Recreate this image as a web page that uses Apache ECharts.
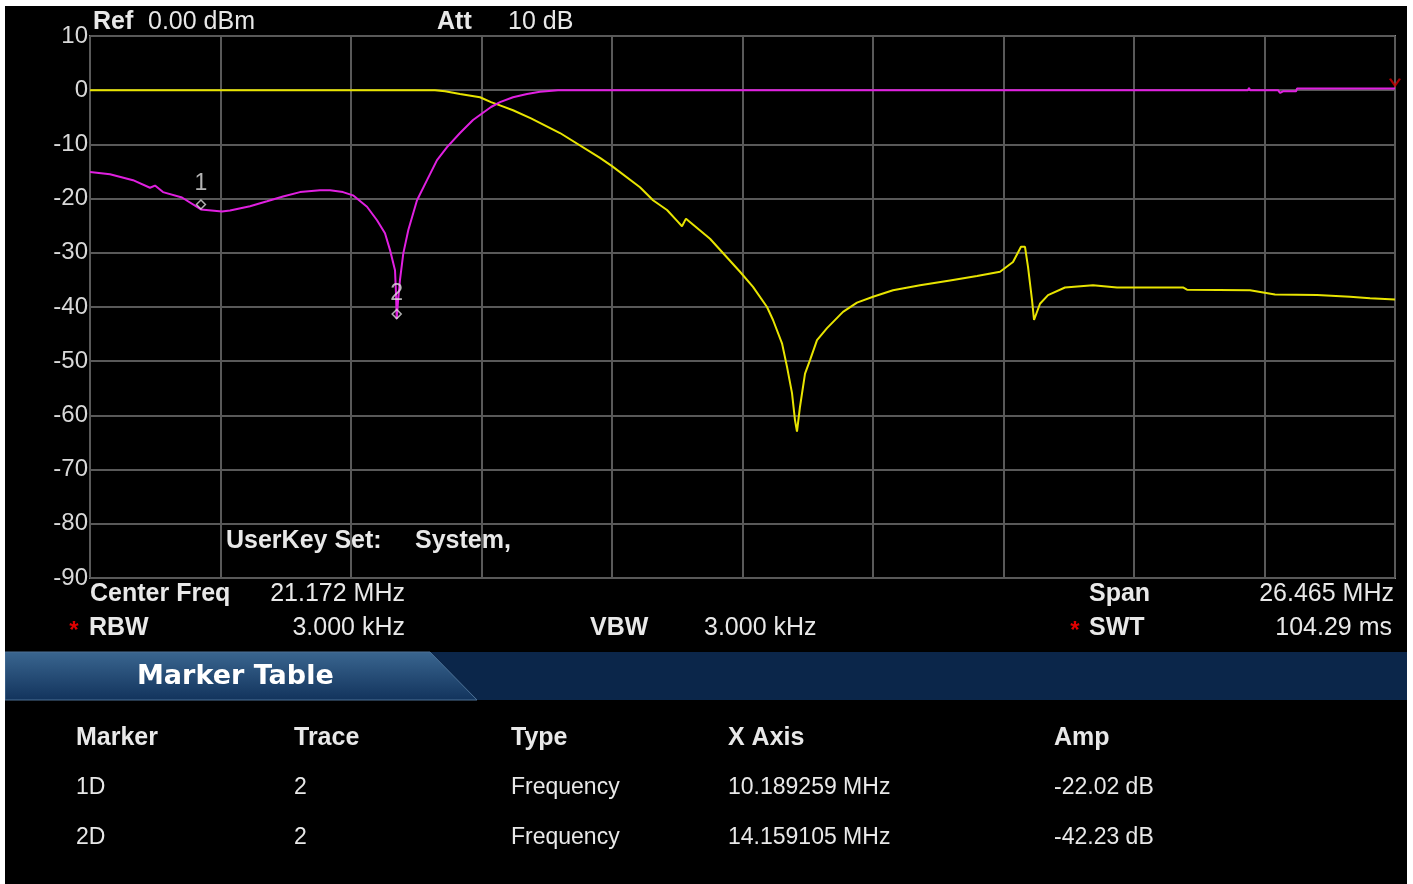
<!DOCTYPE html>
<html>
<head>
<meta charset="utf-8">
<title>Spectrum trace</title>
<script src="https://cdn.jsdelivr.net/npm/echarts@6/dist/echarts.min.js"></script>
<style>
  html, body { margin: 0; padding: 0; background: #fff; }
  #main { position: absolute; left: 5px; top: 6px; width: 1402px; height: 878px; background: #000; }
</style>
</head>
<body>
<div id="main"></div>
<script>
// sweep settings (MHz / dB)
const centerFreq = 21.172;
const span = 26.465;
const startFreq = centerFreq - span / 2;
const stopFreq = centerFreq + span / 2;
const refLevel = 10;
const bottomLevel = -90;

// trace 1 (yellow)
const trace1Freq = [7.940, 14.936, 15.139, 15.443, 15.849, 16.072, 16.254, 16.518, 16.883, 17.471,
  18.282, 18.526, 19.093, 19.357, 19.641, 19.864, 19.945, 20.026, 20.513, 21.121,
  21.385, 21.669, 21.791, 21.973, 22.074, 22.176, 22.237, 22.277, 22.338, 22.440,
  22.541, 22.683, 22.886, 23.210, 23.494, 23.819, 24.224, 24.772, 25.380, 25.928,
  26.394, 26.658, 26.820, 26.901, 26.962, 27.043, 27.084, 27.205, 27.368, 27.712,
  28.280, 28.767, 30.105, 30.186, 31.464, 31.971, 32.823, 33.492, 33.898, 34.404];
const trace1Level = [0, 0, -0.2, -0.7, -1.3, -2.2, -2.8, -3.7, -5.2, -7.9,
  -12.5, -14.0, -17.9, -20.3, -22.1, -24.3, -25.1, -23.7, -27.4, -33.5,
  -36.3, -40.0, -42.4, -46.7, -51.0, -55.9, -60.9, -63.0, -58.4, -52.3,
  -49.8, -46.1, -43.9, -40.9, -39.2, -38.1, -36.9, -36.0, -35.1, -34.3,
  -33.5, -31.7, -28.9, -28.9, -32.6, -38.7, -42.4, -39.4, -37.8, -36.4,
  -36.0, -36.4, -36.4, -36.8, -36.9, -37.7, -37.8, -38.1, -38.4, -38.6];

// trace 2 (magenta)
const trace2Freq = [7.940, 8.345, 8.812, 9.156, 9.258, 9.420, 9.805, 10.189, 10.616, 10.779,
  11.184, 11.529, 11.854, 12.198, 12.604, 12.807, 13.070, 13.273, 13.557, 13.760,
  13.922, 14.024, 14.125, 14.145, 14.159, 14.190, 14.226, 14.293, 14.395, 14.571,
  14.774, 14.977, 15.180, 15.443, 15.707, 16.072, 16.254, 16.518, 16.802, 17.065,
  17.430, 31.424, 31.444, 31.465, 32.032, 32.073, 32.134, 32.397, 32.417, 34.404];
const trace2Level = [-15.1, -15.5, -16.6, -18.0, -17.6, -18.8, -19.8, -22.0, -22.4, -22.2,
  -21.4, -20.5, -19.6, -18.8, -18.45, -18.45, -18.8, -19.4, -21.5, -24.0,
  -26.4, -29.5, -33.2, -37.5, -42.2, -38.5, -35.0, -30.1, -25.8, -20.3,
  -16.6, -12.9, -10.5, -7.9, -5.5, -3.1, -2.2, -1.3, -0.7, -0.3,
  0, 0, 0.4, 0, 0, -0.5, -0.2, -0.2, 0.3, 0.3];

// markers
const markerNames = ['1', '2'];
const markerFreq = [10.189259, 14.159105];
const markerAmp = [-22.02, -42.23];

// marker table
const tableHeaders = ['Marker', 'Trace', 'Type', 'X Axis', 'Amp'];
const tableMarker = ['1D', '2D'];
const tableTrace = ['2', '2'];
const tableType = ['Frequency', 'Frequency'];
const tableXAxis = ['10.189259 MHz', '14.159105 MHz'];
const tableAmp = ['-22.02 dB', '-42.23 dB'];

const FONT = '"Liberation Sans", Arial, sans-serif';
const OX = 5, OY = 6; // page offset of the chart div

function txt(x, y, text, opt) {
  opt = opt || {};
  return {
    type: 'text',
    x: x - OX,
    y: y - OY,
    silent: true,
    style: {
      text: text,
      fill: opt.color || '#e8e8e8',
      font: (opt.bold ? 'bold ' : '') + (opt.size || 25) + 'px ' + (opt.family || FONT),
      textAlign: opt.align || 'left',
      textVerticalAlign: 'middle'
    }
  };
}

const zip = (xs, ys) => xs.map((x, i) => [x, ys[i]]);

const elements = [
  txt(93, 22, 'Ref', { bold: true }),
  txt(148, 22, '0.00 dBm'),
  txt(437, 22, 'Att', { bold: true }),
  txt(508, 22, '10 dB'),
  txt(226, 541, 'UserKey Set:', { bold: true }),
  txt(415, 541, 'System,', { bold: true }),
  txt(90, 594, 'Center Freq', { bold: true }),
  txt(405, 594, centerFreq.toFixed(3) + ' MHz', { align: 'right' }),
  txt(74, 631, '*', { color: '#e00000', bold: true, size: 24, align: 'center' }),
  txt(89, 628, 'RBW', { bold: true }),
  txt(405, 628, '3.000 kHz', { align: 'right' }),
  txt(590, 628, 'VBW', { bold: true }),
  txt(704, 628, '3.000 kHz'),
  txt(1089, 594, 'Span', { bold: true }),
  txt(1394, 594, span.toFixed(3) + ' MHz', { align: 'right' }),
  txt(1075, 631, '*', { color: '#e00000', bold: true, size: 24, align: 'center' }),
  txt(1089, 628, 'SWT', { bold: true }),
  txt(1392, 628, '104.29 ms', { align: 'right' }),
  // marker table bar
  {
    type: 'rect', silent: true,
    shape: { x: 0, y: 652 - OY, width: 1402, height: 48 },
    style: { fill: '#0b264a' }
  },
  {
    type: 'polygon', silent: true,
    shape: { points: [[0, 652 - OY], [430 - OX, 652 - OY], [477 - OX, 700 - OY], [0, 700 - OY]] },
    style: {
      fill: new echarts.graphic.LinearGradient(0, 0, 0, 1, [
        { offset: 0, color: '#3a6690' },
        { offset: 1, color: '#12335c' }
      ]),
      stroke: '#4c7196', lineWidth: 1
    }
  },
  txt(137, 677, 'Marker Table', { bold: true, size: 27, family: '"DejaVu Sans", sans-serif', color: '#ffffff' })
];

const colX = [76, 294, 511, 728, 1054];
tableHeaders.forEach((h, i) => elements.push(txt(colX[i], 738, h, { bold: true, size: 25 })));
tableMarker.forEach((m, r) => {
  const y = 788 + r * 50;
  const row = [m, tableTrace[r], tableType[r], tableXAxis[r], tableAmp[r]];
  row.forEach((v, i) => elements.push(txt(colX[i], y, v, { size: 23 })));
});

const chart = echarts.init(document.getElementById('main'));
chart.setOption({
  animation: false,
  backgroundColor: '#000',
  grid: {
    left: 90 - OX, top: 36 - OY, width: 1305, height: 542,
    show: true, borderColor: '#8c8c8c', borderWidth: 2, backgroundColor: 'transparent'
  },
  xAxis: {
    type: 'value',
    min: startFreq, max: stopFreq, interval: span / 10,
    axisLine: { show: false }, axisTick: { show: false }, axisLabel: { show: false },
    splitLine: { show: true, lineStyle: { color: '#595959', width: 2 } }
  },
  yAxis: {
    type: 'value',
    min: bottomLevel, max: refLevel, interval: 10,
    axisLine: { show: false }, axisTick: { show: false },
    axisLabel: { color: '#d8d8d8', fontSize: 24, fontFamily: FONT, margin: 2 },
    splitLine: { show: true, lineStyle: { color: '#595959', width: 2 } }
  },
  series: [
    {
      name: 'Trace 1', type: 'line', data: zip(trace1Freq, trace1Level),
      showSymbol: false, lineStyle: { color: '#e8e400', width: 2 }, z: 3
    },
    {
      name: 'Trace 2', type: 'line', data: zip(trace2Freq, trace2Level),
      showSymbol: false, lineStyle: { color: '#e020e0', width: 2 }, z: 4
    },
    {
      name: 'Markers', type: 'scatter', z: 5,
      data: markerFreq.map((f, i) => ({ value: [f, markerAmp[i]], name: markerNames[i] })),
      symbol: 'path://M5,0 L10,5 L5,10 L0,5 Z', symbolSize: [9, 9], symbolOffset: [0, -5],
      itemStyle: { color: 'transparent', borderColor: '#dcdcdc', borderWidth: 1.5 },
      label: {
        show: true, position: 'top', distance: 4, formatter: '{b}',
        color: '#e0e0e0', fontSize: 23, fontFamily: FONT
      }
    },
    {
      name: 'Trace end', type: 'scatter', z: 6,
      data: [[stopFreq, 1.5]],
      symbol: 'path://M0,0 L5,6 L10,0', symbolSize: [10, 7],
      itemStyle: { color: 'transparent', borderColor: '#d00000', borderWidth: 2 }
    }
  ],
  graphic: { elements: elements }
});
</script>
</body>
</html>
